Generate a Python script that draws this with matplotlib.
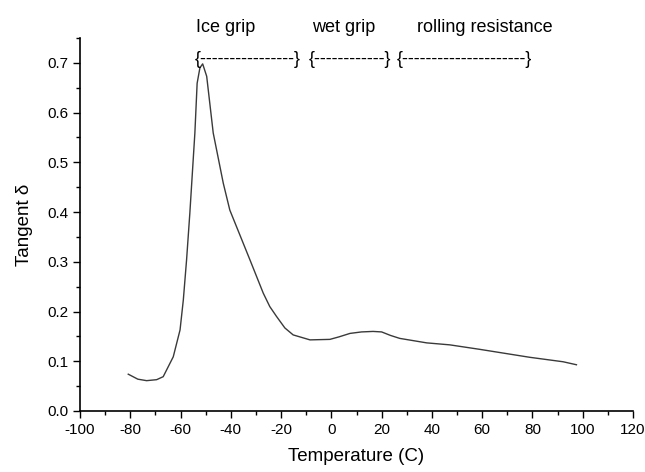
import matplotlib
matplotlib.use("Agg")
import matplotlib.pyplot as plt
from matplotlib.ticker import MultipleLocator, FormatStrFormatter

plt.rcParams['font.family'] = ['Liberation Sans', 'DejaVu Sans']
plt.rcParams['axes.unicode_minus'] = False

# tan delta vs temperature
temp = [-80.8, -77, -73.5, -69.5, -66.9, -62.9, -60.2, -58.9, -57.6, -56.3,
        -54.3, -53.4, -52.3, -51.2, -49.6, -47.0, -43.0, -40.4, -32.4, -27.1,
        -24.5, -21.8, -18.5, -15.2, -8.5, -0.6, 3, 7.4, 12, 16.6,
        20.0, 23.5, 27.2, 37.9, 47.1, 59.0, 78.9, 92.2, 97.5]
tan_delta = [0.074, 0.064, 0.061, 0.063, 0.069, 0.109, 0.163, 0.223, 0.304, 0.398,
             0.559, 0.659, 0.690, 0.698, 0.673, 0.559, 0.458, 0.404, 0.304, 0.237,
             0.210, 0.190, 0.167, 0.153, 0.143, 0.144, 0.149, 0.156, 0.159, 0.160,
             0.159, 0.152, 0.146, 0.137, 0.133, 0.124, 0.108, 0.099, 0.093]

regions = ["Ice grip", "wet grip", "rolling resistance"]
region_x = [196, 312, 417]          # pixel left edges of the headings
braces = ["{" + "-" * 16 + "}", "{" + "-" * 12 + "}", "{" + "-" * 21 + "}"]
brace_x = [195, 309, 397]

fig = plt.figure(figsize=(6.45, 4.72), dpi=100)
ax = fig.add_axes([80 / 645, 1 - 411 / 472, 553 / 645, 373 / 472])

ax.plot(temp, tan_delta, color="#3a3a3a", lw=1.0)

ax.set_xlim(-100, 120)
ax.set_ylim(0, 0.75)
ax.xaxis.set_major_locator(MultipleLocator(20))
ax.xaxis.set_minor_locator(MultipleLocator(10))
ax.yaxis.set_major_locator(MultipleLocator(0.1))
ax.yaxis.set_minor_locator(MultipleLocator(0.05))
ax.yaxis.set_major_formatter(FormatStrFormatter("%.1f"))
ax.tick_params(which="major", direction="out", length=5, width=1, labelsize=11)
ax.tick_params(which="minor", direction="out", length=3, width=1)
for s in ["top", "right"]:
    ax.spines[s].set_visible(False)
for s in ["left", "bottom"]:
    ax.spines[s].set_linewidth(1.2)

ax.set_xlabel("Temperature (C)", fontsize=13.5, labelpad=8)
ax.set_ylabel("Tangent \u03b4", fontsize=13.5, labelpad=10)

for name, px in zip(regions, region_x):
    fig.text(px / 645, 1 - 32 / 472, name, fontsize=13, ha="left", va="baseline")
for b, px in zip(braces, brace_x):
    fig.text(px / 645, 1 - 60 / 472, b, fontsize=13, ha="left", va="center")

fig.savefig("out.png", dpi=100)
